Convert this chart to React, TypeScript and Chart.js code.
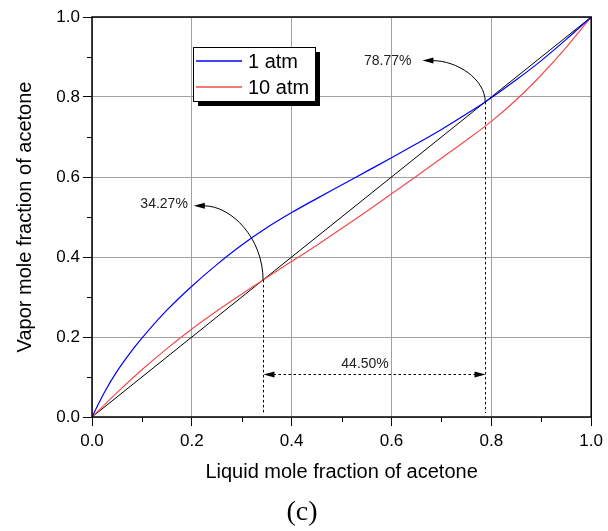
import React, { useEffect, useRef } from 'react';
import { Chart, registerables } from 'chart.js';

Chart.register(...registerables);

// ---- data ----
const liquid1atm = [0, 0.025, 0.05, 0.075, 0.1, 0.15, 0.2, 0.25, 0.3, 0.35, 0.4, 0.45, 0.5, 0.55, 0.6, 0.65, 0.7, 0.75, 0.7877, 0.85, 0.9, 0.95, 1];
const vapor1atm = [0, 0.062, 0.114, 0.158, 0.197, 0.267, 0.327, 0.381, 0.43, 0.473, 0.511, 0.546, 0.58, 0.614, 0.648, 0.683, 0.719, 0.7575, 0.7877, 0.843, 0.891, 0.944, 1];
const liquid10atm = [0, 0.05, 0.1, 0.15, 0.2, 0.25, 0.3, 0.3427, 0.4, 0.45, 0.5, 0.55, 0.6, 0.65, 0.7, 0.75, 0.8, 0.85, 0.9, 0.95, 1];
const vapor10atm = [0, 0.061, 0.118, 0.171, 0.22, 0.265, 0.3075, 0.3427, 0.389, 0.429, 0.471, 0.514, 0.558, 0.602, 0.647, 0.692, 0.739, 0.793, 0.855, 0.924, 1];
const diagonalX = [0, 1];
const diagonalY = [0, 1];
const seriesLabels = ['1 atm', '10 atm'];
const majorTicks = [0, 0.2, 0.4, 0.6, 0.8, 1.0];
const minorTicks = [0.1, 0.3, 0.5, 0.7, 0.9];
const azeotropes = [0.3427, 0.7877];
const azeotropeLabels = ['34.27%', '78.77%'];
const gapLabel = '44.50%';

const FONT = "'Liberation Sans', Arial, Helvetica, sans-serif";

function arrowHead(ctx: CanvasRenderingContext2D, tx: number, ty: number, dir: number, L = 11, w = 3) {
  ctx.beginPath();
  ctx.moveTo(tx, ty);
  ctx.lineTo(tx - dir * L, ty - w);
  ctx.lineTo(tx - dir * L, ty + w);
  ctx.closePath();
  ctx.fill();
}

const annotPlugin = {
  id: 'annot',
  afterDatasetsDraw(chart: any) {
    const { ctx, chartArea: ca, scales } = chart;
    const x = scales.x, y = scales.y;
    ctx.save();
    ctx.strokeStyle = '#000';
    ctx.fillStyle = '#000';
    ctx.lineWidth = 1;

    // dotted verticals
    ctx.setLineDash([2.5, 2.5]);
    for (const a of azeotropes) {
      const px = Math.round(x.getPixelForValue(a)) + 0.5;
      ctx.beginPath();
      ctx.moveTo(px, y.getPixelForValue(a));
      ctx.lineTo(px, y.getPixelForValue(0.01));
      ctx.stroke();
    }
    // dotted horizontal double arrow
    const hy = Math.round(y.getPixelForValue(0.107)) + 0.5;
    const x1 = Math.round(x.getPixelForValue(azeotropes[0])) + 0.5;
    const x2 = Math.round(x.getPixelForValue(azeotropes[1])) + 0.5;
    ctx.beginPath();
    ctx.moveTo(x1 + 10, hy);
    ctx.lineTo(x2 - 10, hy);
    ctx.stroke();
    ctx.setLineDash([]);
    arrowHead(ctx, x1, hy, -1);
    arrowHead(ctx, x2, hy, 1);

    ctx.font = `14px ${FONT}`;
    ctx.textAlign = 'center';
    ctx.textBaseline = 'middle';
    ctx.fillStyle = '#222';
    ctx.fillText(gapLabel, x.getPixelForValue(0.547), y.getPixelForValue(0.133));

    // curved arrows
    const tips = [[0.204, 0.528], [0.662, 0.891]];
    const textPos = [[0.192, 0.531], [0.64, 0.889]];
    ctx.fillStyle = '#000';
    for (let i = 0; i < 2; i++) {
      const sx = x.getPixelForValue(azeotropes[i]);
      const sy = y.getPixelForValue(azeotropes[i]);
      const tx = x.getPixelForValue(tips[i][0]);
      const ty = y.getPixelForValue(tips[i][1]);
      const ex = tx + 10;
      const k = 0.5523;
      ctx.beginPath();
      ctx.moveTo(sx, sy);
      ctx.bezierCurveTo(sx, sy - k * (sy - ty), tx + k * (sx - tx), ty, ex, ty);
      ctx.stroke();
      arrowHead(ctx, tx, ty, -1);
      ctx.font = `14px ${FONT}`;
      ctx.textAlign = 'right';
      ctx.textBaseline = 'middle';
      ctx.fillStyle = '#222';
      ctx.fillText(azeotropeLabels[i], x.getPixelForValue(textPos[i][0]), y.getPixelForValue(textPos[i][1]));
      ctx.fillStyle = '#000';
    }

    // frame
    ctx.lineWidth = 1.5;
    ctx.strokeStyle = '#000';
    ctx.strokeRect(ca.left, ca.top, ca.right - ca.left, ca.bottom - ca.top);

    // minor ticks
    ctx.lineWidth = 1;
    for (const m of minorTicks) {
      const px = Math.round(x.getPixelForValue(m)) + 0.5;
      ctx.beginPath();
      ctx.moveTo(px, ca.bottom);
      ctx.lineTo(px, ca.bottom + 5);
      ctx.stroke();
      const py = Math.round(y.getPixelForValue(m)) + 0.5;
      ctx.beginPath();
      ctx.moveTo(ca.left, py);
      ctx.lineTo(ca.left - 5, py);
      ctx.stroke();
    }

    // legend
    const lx = ca.left + 101, ly = ca.top + 30, lw = 122, lh = 54;
    ctx.fillStyle = '#000';
    ctx.fillRect(lx + 5, ly + 5, lw, lh);
    ctx.fillStyle = '#fff';
    ctx.fillRect(lx, ly, lw, lh);
    ctx.strokeStyle = '#000';
    ctx.lineWidth = 1;
    ctx.strokeRect(lx + 0.5, ly + 0.5, lw, lh);
    const ds = chart.data.datasets;
    ctx.font = `20px ${FONT}`;
    ctx.textAlign = 'left';
    ctx.textBaseline = 'middle';
    for (let i = 0; i < 2; i++) {
      const yy = ly + 14 + i * 26;
      ctx.strokeStyle = ds[i].borderColor;
      ctx.lineWidth = 1.5;
      ctx.beginPath();
      ctx.moveTo(lx + 3, yy);
      ctx.lineTo(lx + 49, yy);
      ctx.stroke();
      ctx.fillStyle = '#000';
      ctx.fillText(seriesLabels[i], lx + 55, yy + 1);
    }

    // caption
    ctx.font = `28px 'Liberation Serif', 'Times New Roman', serif`;
    ctx.textAlign = 'center';
    ctx.textBaseline = 'middle';
    ctx.fillStyle = '#000';
    ctx.fillText('(c)', 302, 513);
    ctx.restore();
  },
};

export default function App() {
  const ref = useRef<HTMLCanvasElement>(null);
  useEffect(() => {
    if (!ref.current) return;
    const pts = (xs: number[], ys: number[]) => xs.map((v, i) => ({ x: v, y: ys[i] }));
    const axisCommon = (title: string, isX: boolean) => ({
      type: 'linear' as const,
      min: 0,
      max: 1,
      afterBuildTicks: (scale: any) => {
        scale.ticks = majorTicks.map((v) => ({ value: v }));
      },
      afterFit: (scale: any) => {
        if (isX) scale.height = 114;
        else scale.width = 92;
      },
      border: { display: false },
      grid: {
        color: '#a0a0a0',
        lineWidth: 1,
        drawTicks: true,
        tickLength: 9,
        tickColor: '#000',
        tickWidth: 1,
      },
      ticks: {
        color: '#000',
        font: { family: FONT, size: 17 },
        padding: isX ? 5 : 3,
        callback: (v: any) => Number(v).toFixed(1),
        maxRotation: 0,
      },
      title: {
        display: true,
        text: title,
        color: '#000',
        font: { family: FONT, size: 20 },
        padding: isX ? { top: 0, bottom: 47 } : { top: 13, bottom: 0 },
      },
    });
    const chart = new Chart(ref.current, {
      type: 'scatter',
      data: {
        datasets: [
          {
            label: seriesLabels[0],
            data: pts(liquid1atm, vapor1atm),
            showLine: true,
            borderColor: '#0000ff',
            borderWidth: 1.2,
            pointRadius: 0,
            cubicInterpolationMode: 'monotone',
          },
          {
            label: seriesLabels[1],
            data: pts(liquid10atm, vapor10atm),
            showLine: true,
            borderColor: '#f24b4b',
            borderWidth: 1.2,
            pointRadius: 0,
            cubicInterpolationMode: 'monotone',
          },
          {
            label: 'y = x',
            data: pts(diagonalX, diagonalY),
            showLine: true,
            borderColor: '#000',
            borderWidth: 1,
            pointRadius: 0,
          },
        ],
      },
      options: {
        animation: false,
        responsive: false,
        devicePixelRatio: 1,
        layout: { padding: { left: 0, right: 16, top: 17, bottom: 0 } },
        plugins: { legend: { display: false }, tooltip: { enabled: false } },
        scales: {
          x: axisCommon('Liquid mole fraction of acetone', true),
          y: axisCommon('Vapor mole fraction of acetone', false),
        },
      } as any,
      plugins: [annotPlugin],
    });
    return () => chart.destroy();
  }, []);
  return (
    <div style={{ position: 'fixed', left: 0, top: 0, width: 608, height: 531, background: '#fff' }}>
      <canvas ref={ref} width={608} height={531} style={{ width: 608, height: 531 }} />
    </div>
  );
}
